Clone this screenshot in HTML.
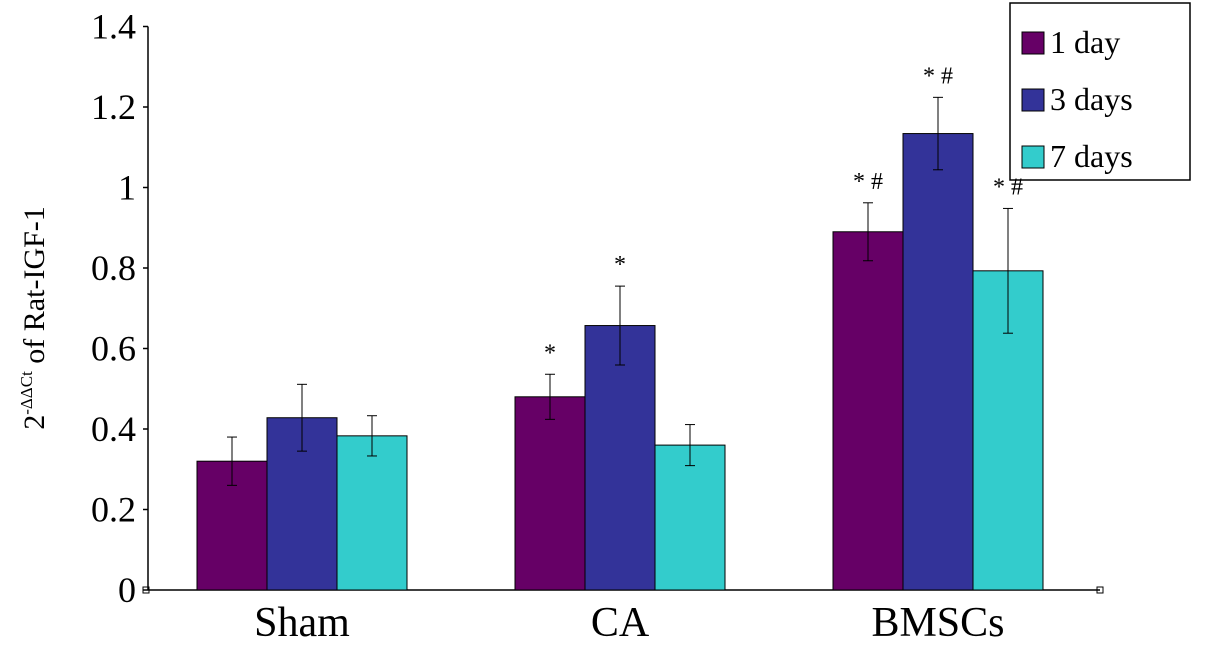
<!DOCTYPE html>
<html><head><meta charset="utf-8">
<style>
html,body{margin:0;padding:0;background:#fff;}
svg{display:block;font-family:"Liberation Serif",serif;}
</style></head>
<body>
<svg id="chart" width="1205" height="652" viewBox="0 0 1205 652">
<g id="axes"></g><g id="bars"></g>
</svg>
<script>
const categories = ["Sham","CA","BMSCs"];
const seriesNames = ["1 day","3 days","7 days"];
const day1 = [0.32,0.48,0.89];
const day3 = [0.428,0.657,1.134];
const day7 = [0.383,0.36,0.793];
const err1 = [0.06,0.056,0.072];
const err3 = [0.083,0.098,0.09];
const err7 = [0.05,0.051,0.155];
const ann1 = ["","*","* #"];
const ann3 = ["","*","* #"];
const ann7 = ["","","* #"];
const yTicks = [0,0.2,0.4,0.6,0.8,1,1.2,1.4];
const yTickLabels = ["0","0.2","0.4","0.6","0.8","1","1.2","1.4"];
const colors = ["#660066","#333399","#33cccc"];

const NS="http://www.w3.org/2000/svg";
const y0=590, pxPerUnit=402.5;
function yScale(v){return y0 - v*pxPerUnit;}
function groupCenter(i){return 302 + i*318;}
const barW=70;
function mk(tag,attrs,parent){const e=document.createElementNS(NS,tag);for(const k in attrs)e.setAttribute(k,attrs[k]);parent.appendChild(e);return e;}
const axes=document.getElementById('axes'), bars=document.getElementById('bars');

const yAxis=mk('line',{x1:148,y1:yScale(1.4),x2:148,y2:y0,stroke:'#000','stroke-width':1.5},axes);


const xAxis=mk('line',{x1:148,y1:y0,x2:1100,y2:y0,stroke:'#000','stroke-width':1.5},axes);


mk('rect',{x:143,y:y0-3,width:6,height:6,fill:'none',stroke:'#000','stroke-width':1},axes);
mk('rect',{x:1097,y:y0-3,width:6,height:6,fill:'none',stroke:'#000','stroke-width':1},axes);

yTicks.forEach((t,i)=>{
  const y=yScale(t);
  mk('line',{x1:143,y1:y,x2:148,y2:y,stroke:'#000','stroke-width':1.5},axes);
  const tx=mk('text',{x:136,y:y+12,'text-anchor':'end','font-size':36},axes);
  tx.textContent=yTickLabels[i];
  
  
});
categories.forEach((c,i)=>{
  const tx=mk('text',{x:groupCenter(i),y:636,'text-anchor':'middle','font-size':42},axes);
  tx.textContent=c;
  
  
});
const yl=mk('text',{transform:'translate(44,318) rotate(-90)','text-anchor':'middle','font-size':30},axes);
yl.innerHTML='2<tspan font-size="17" dy="-12">-ΔΔCt</tspan><tspan dy="12"> of Rat-IGF-1</tspan>';



const series=[day1,day3,day7], errs=[err1,err3,err7], anns=[ann1,ann3,ann7];
series.forEach((vals,s)=>{
  vals.forEach((v,i)=>{
    const x=groupCenter(i)-1.5*barW+s*barW;
    const r=mk('rect',{x:x,y:yScale(v),width:barW,height:y0-yScale(v),fill:colors[s],stroke:'#000','stroke-width':1},bars);
    
    
    const cx=x+barW/2, e=errs[s][i];
    const g=mk('g',{stroke:'#000','stroke-width':1},bars);
    
    
    mk('line',{x1:cx,y1:yScale(v+e),x2:cx,y2:yScale(v-e)},g);
    mk('line',{x1:cx-5,y1:yScale(v+e),x2:cx+5,y2:yScale(v+e)},g);
    mk('line',{x1:cx-5,y1:yScale(v-e),x2:cx+5,y2:yScale(v-e)},g);
    if(anns[s][i]){
      const a=mk('text',{x:cx,y:yScale(v+e)-14,'text-anchor':'middle','font-size':24},bars);
      a.textContent=anns[s][i];
      
      
    }
  });
});

const lg=mk('g',{},axes);


mk('rect',{x:1010,y:3,width:180,height:177,fill:'#fff',stroke:'#000','stroke-width':1.5},lg);
seriesNames.forEach((n,s)=>{
  const y=32+s*57;
  mk('rect',{x:1022,y:y,width:22,height:22,fill:colors[s],stroke:'#000','stroke-width':1},lg);
  const t=mk('text',{x:1050,y:y+21,'font-size':32},lg);
  t.textContent=n;
  
  
});
</script>
</body></html>
